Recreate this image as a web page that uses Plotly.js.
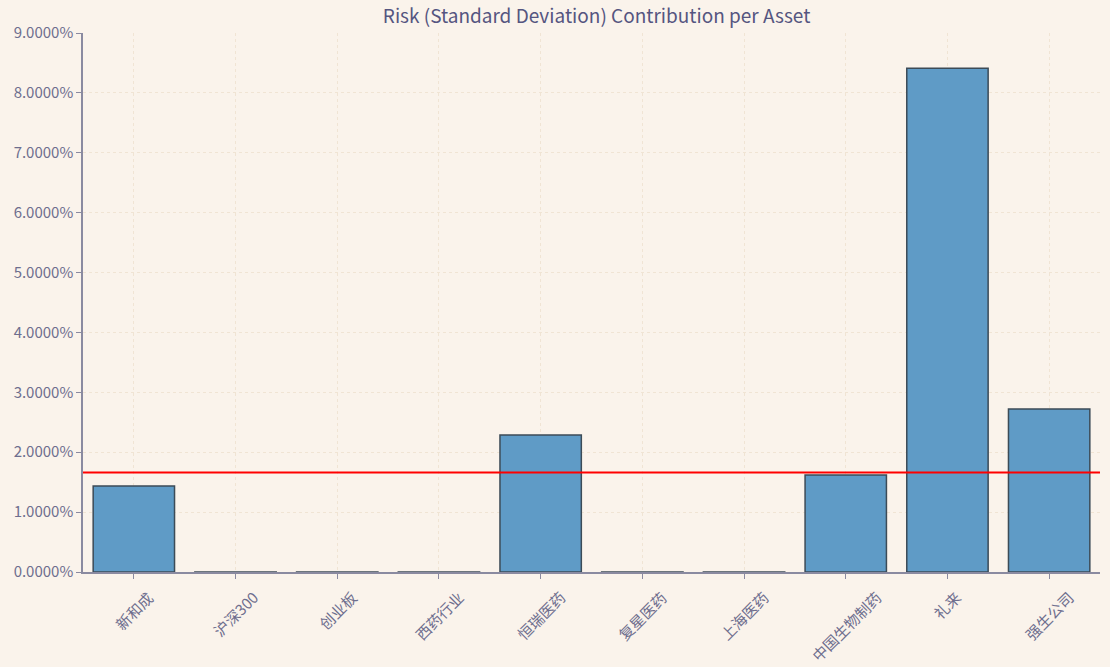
<!DOCTYPE html>
<html><head><meta charset="utf-8">
<script src="https://cdn.plot.ly/plotly-3.0.1.min.js"></script>
<style>html,body{margin:0;padding:0;background:#FAF3EB;}#chart{width:1110px;height:667px;}</style>
</head><body><div id="chart"></div>
<script>
const assets = ["新和成","沪深300","创业板","西药行业","恒瑞医药","复星医药","上海医药","中国生物制药","礼来","强生公司"];
const riskContribution = [0.01436, 0.000002, 0.000002, 0.000002, 0.02287, 0.000002, 0.000002, 0.0162, 0.0841, 0.0272];
const averageLine = 0.0166;
const yTicks = [0,0.01,0.02,0.03,0.04,0.05,0.06,0.07,0.08,0.09];

const txt = '#6e6e8e';
const font = '"Noto Sans CJK SC","Open Sans",sans-serif';
const labelAnnotations = assets.map(a => ({
  x:a, xref:'x', y:0, yref:'paper', yshift:-12, xanchor:'center', yanchor:'top',
  text:a, textangle:-45, showarrow:false, font:{size:15, color:txt, family:font}
}));
Plotly.newPlot('chart', [{
  type:'bar', x:assets, y:riskContribution, width:0.8,
  marker:{color:'#5F9BC6', line:{color:'#3c4b57', width:1.5}},
  hoverinfo:'skip'
}], {
  width:1110, height:667,
  paper_bgcolor:'#FAF3EB', plot_bgcolor:'#FAF3EB',
  margin:{l:83,r:10,t:33,b:95},
  font:{family:font, color:txt, size:14},
  title:{text:'Risk (Standard Deviation) Contribution per Asset', xref:'paper', x:0.505, xanchor:'center', y:0.985, yanchor:'top', font:{size:19, color:'#555580', family:font}},
  showlegend:false,
  xaxis:{type:'category', range:[-0.5,9.5], showticklabels:false, showline:true, linecolor:'#8a8aa0', linewidth:1.5,
    ticks:'outside', ticklen:5, tickcolor:'#8a8aa0', showgrid:true, gridcolor:'#f0e4d4', griddash:'dot', zeroline:false},
  yaxis:{range:[0,0.09], tickvals:yTicks, tickformat:'.4%', showline:true, linecolor:'#8a8aa0', linewidth:1.5,
    ticks:'outside', ticklen:5, tickcolor:'#8a8aa0', showgrid:true, gridcolor:'#f0e4d4', griddash:'dot', zeroline:false,
    tickfont:{size:15, color:txt}},
  annotations: labelAnnotations,
  shapes:[{type:'line', xref:'paper', x0:0, x1:1, yref:'y', y0:averageLine, y1:averageLine, line:{color:'#ff0000', width:2}}]
}, {displayModeBar:false});
</script></body></html>
